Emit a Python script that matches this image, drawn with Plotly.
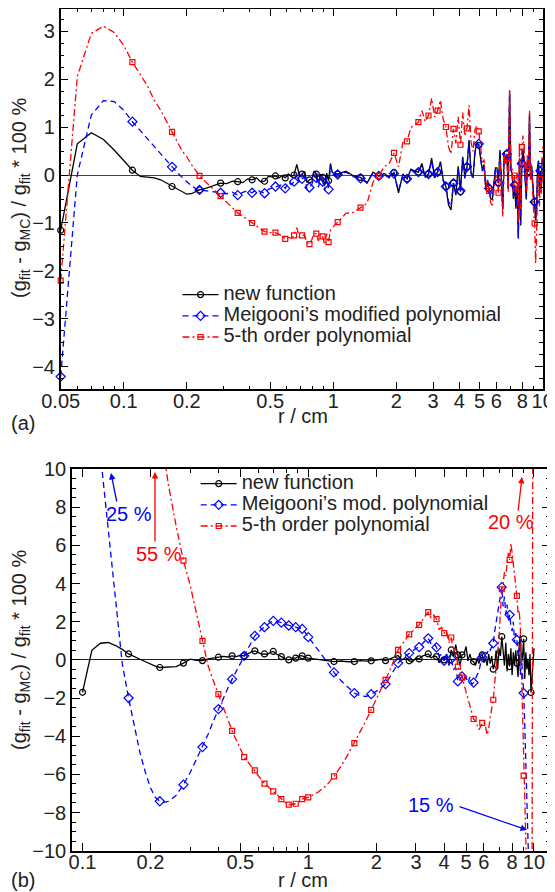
import plotly.graph_objects as go

# ---------------- panel (a) data ----------------
R_TOP = [0.05, 0.06, 0.07, 0.08, 0.09, 0.10, 0.11, 0.12, 0.13, 0.14, 0.15, 0.16, 0.17, 0.18, 0.19, 0.20, 0.21, 0.22, 0.23,
         0.25, 0.27, 0.29, 0.31, 0.33, 0.35, 0.37, 0.39, 0.41, 0.43, 0.45, 0.47, 0.49, 0.51, 0.53, 0.55, 0.57, 0.59, 0.61,
         0.63, 0.65, 0.67, 0.69, 0.71, 0.73, 0.75, 0.77, 0.79, 0.81, 0.83, 0.85, 0.87, 0.89, 0.91, 0.93, 0.95, 0.97, 0.99,
         1.05, 1.15, 1.25, 1.35, 1.45, 1.55, 1.65, 1.75, 1.85, 1.95,
         2.05, 2.15, 2.25, 2.35, 2.45, 2.55, 2.65, 2.75, 2.85, 2.95,
         3.05, 3.15, 3.25, 3.35, 3.45, 3.55, 3.65, 3.75, 3.85, 3.95,
         4.05, 4.15, 4.25, 4.35, 4.45, 4.55, 4.65, 4.75, 4.85, 4.95,
         5.05, 5.15, 5.25, 5.35, 5.45, 5.55, 5.65, 5.75, 5.85, 5.95,
         6.05, 6.15, 6.25, 6.35, 6.45, 6.55, 6.65, 6.75, 6.85, 6.95,
         7.05, 7.15, 7.25, 7.35, 7.45, 7.55, 7.65, 7.75, 7.85, 7.95,
         8.05, 8.15, 8.25, 8.35, 8.45, 8.55, 8.65, 8.75, 8.85, 8.95,
         9.05, 9.15, 9.25, 9.35, 9.45, 9.55, 9.65, 9.75, 9.85, 9.95, 10.0]

NEW_TOP = [-1.15, 0.65, 0.88, 0.74, 0.52, 0.30, 0.10, -0.03, -0.05, -0.06, -0.10, -0.17, -0.24, -0.30, -0.36, -0.40, -0.39, -0.35, -0.31,
           -0.27, -0.22, -0.17, -0.18, -0.13, -0.14, -0.16, -0.08, -0.10, -0.06, -0.14, -0.13, -0.03, -0.04, -0.02, -0.06, -0.01, -0.06, 0.02,
           -0.03, 0.0, 0.22, -0.02, 0.02, 0.07, -0.16, -0.10, -0.08, 0.08, 0.02, -0.17, 0.02, -0.05, -0.22, 0.04, -0.12, 0.24, 0.05,
           0.02, 0.08, -0.02, -0.05, -0.17, 0.06, -0.02, 0.03, -0.04, 0.05,
           -0.37, 0.02, -0.08, 0.12, 0.08, 0.06, 0.24, -0.05, 0.02, 0.35,
           -0.06, 0.06, 0.28, -0.10, -0.24, -0.62, -0.73, -0.17, -0.42, 0.18,
           -0.35, 0.38, -0.05, 0.17, 0.73, 0.05, -0.06, 0.49, 0.66, 0.62,
           0.38, 0.10, 0.22, -0.31, -0.10, -0.28, -0.50, -0.51, -0.10, 0.15,
           0.15, -0.16, 0.52, 0.0, -0.72, 0.48, 0.30, 0.44, -0.30, 1.76,
           0.10, 0.03, -0.50, -0.21, -0.70, -0.24, -1.30, 0.35, -1.05, 0.24,
           0.52, 0.30, -0.21, -0.51, 0.30, 0.07, 1.28, -0.10, 0.20, -0.30,
           -0.45, -0.56, -0.94, -0.75, 0.17, 0.30, -0.45, 0.09, -0.30, 0.35, 0.30]

MEI_TOP = [-4.2, 0.0, 1.25, 1.55, 1.53, 1.35, 1.11, 0.92, 0.76, 0.58, 0.44, 0.30, 0.17, 0.05, -0.05, -0.14, -0.22, -0.28, -0.31,
           -0.33, -0.35, -0.37, -0.39, -0.36, -0.42, -0.36, -0.33, -0.37, -0.30, -0.35, -0.38, -0.30, -0.27, -0.24, -0.22, -0.20, -0.28, -0.15,
           -0.20, -0.14, 0.05, -0.15, -0.08, -0.05, -0.30, -0.26, -0.20, -0.05, -0.06, -0.25, -0.08, -0.14, -0.32, -0.05, -0.30, 0.18, 0.02,
           0.01, 0.06, -0.04, -0.07, -0.15, 0.04, -0.02, 0.01, -0.06, 0.03,
           -0.33, 0.0, -0.08, 0.10, 0.06, 0.06, 0.20, -0.06, 0.02, 0.30,
           -0.08, 0.06, 0.25, -0.12, -0.24, -0.55, -0.66, -0.17, -0.38, 0.15,
           -0.33, 0.35, -0.07, 0.17, 0.68, 0.03, -0.08, 0.46, 0.62, 0.65,
           0.35, 0.08, 0.20, -0.29, -0.12, -0.28, -0.46, -0.48, -0.12, 0.12,
           0.13, -0.16, 0.48, -0.02, -0.68, 0.45, 0.28, 0.44, -0.28, 1.70,
           0.08, 0.02, -0.47, -0.21, -0.66, -0.24, -1.33, 0.32, -1.00, 0.24,
           0.50, 0.28, -0.20, -0.48, 0.28, 0.07, 1.22, -0.12, 0.18, -0.28,
           -0.42, -0.56, -0.90, -0.70, 0.15, 0.28, -0.42, 0.09, -0.28, 0.32, 0.28]

POLY_TOP = [-2.2, 2.05, 2.95, 3.10, 2.97, 2.70, 2.35, 2.10, 1.85, 1.55, 1.35, 1.12, 0.90, 0.68, 0.50, 0.38, 0.22, 0.10, -0.02,
            -0.17, -0.31, -0.44, -0.56, -0.67, -0.79, -0.86, -0.93, -1.00, -1.06, -1.12, -1.18, -1.19, -1.21, -1.20, -1.24, -1.27, -1.33, -1.30,
            -1.32, -1.26, -1.10, -1.30, -1.26, -1.25, -1.42, -1.44, -1.35, -1.22, -1.22, -1.37, -1.22, -1.28, -1.45, -1.22, -1.40, -1.15, -1.10,
            -0.98, -0.80, -0.78, -0.68, -0.59, -0.14, -0.02, 0.17, 0.24, 0.46,
            0.17, 0.68, 0.70, 0.99, 1.04, 1.10, 1.34, 1.11, 1.24, 1.60,
            1.21, 1.34, 1.56, 1.16, 1.00, 0.59, 0.44, 0.96, 0.66, 1.21,
            0.63, 1.30, 0.81, 0.97, 1.45, 0.68, 0.49, 0.95, 1.03, 0.91,
            0.60, 0.26, 0.32, -0.26, -0.10, -0.33, -0.59, -0.63, -0.25, -0.03,
            -0.05, -0.37, 0.32, -0.18, -0.87, 0.36, 0.20, 0.35, -0.35, 1.76,
            0.15, 0.13, -0.35, -0.01, -0.46, 0.03, -1.00, 0.67, -0.71, 0.58,
            0.82, 0.55, -0.01, -0.35, 0.44, 0.19, 1.34, -0.10, 0.15, -0.45,
            -0.75, -1.01, -1.84, -1.25, -0.13, 0.05, -0.65, -0.08, -0.40, 0.45, 0.60]

MARK_TOP = [0.05, 0.11, 0.17, 0.23, 0.29, 0.35, 0.41, 0.47, 0.53, 0.59, 0.65, 0.71, 0.77, 0.83, 0.89, 0.95,
            1.05, 1.35, 1.65, 1.95, 2.25, 2.55, 2.85, 3.15, 3.45, 3.75, 4.05, 4.35,
            4.95, 5.55, 6.15, 6.75, 7.35, 7.95, 8.55, 9.15, 9.75]

# ---------------- panel (b) data ----------------
R_BOT = [0.10, 0.11, 0.12, 0.13, 0.14, 0.15, 0.16, 0.17, 0.18, 0.19, 0.20, 0.21, 0.22, 0.23, 0.24,
         0.26, 0.28, 0.30, 0.32, 0.34, 0.36, 0.38, 0.40, 0.42, 0.44, 0.46, 0.48, 0.50, 0.52, 0.54, 0.56, 0.58, 0.60, 0.62,
         0.64, 0.66, 0.68, 0.70, 0.72, 0.74, 0.76, 0.78, 0.80, 0.82, 0.84, 0.86, 0.88, 0.90, 0.92, 0.94, 0.96, 0.98, 1.00,
         1.1, 1.2, 1.3, 1.4, 1.5, 1.6, 1.7, 1.8, 1.9, 2.0,
         2.1, 2.2, 2.3, 2.4, 2.5, 2.6, 2.7, 2.8, 2.9, 3.0,
         3.1, 3.2, 3.3, 3.4, 3.5, 3.6, 3.7, 3.8, 3.9, 4.0,
         4.1, 4.2, 4.3, 4.4, 4.5, 4.6, 4.7, 4.8, 4.9, 5.0,
         5.1, 5.2, 5.3, 5.4, 5.5, 5.6, 5.7, 5.8, 5.9, 6.0,
         6.1, 6.2, 6.3, 6.4, 6.5, 6.6, 6.7, 6.8, 6.9, 7.0,
         7.1, 7.2, 7.3, 7.4, 7.5, 7.6, 7.7, 7.8, 7.9, 8.0,
         8.1, 8.2, 8.3, 8.4, 8.5, 8.6, 8.7, 8.8, 8.9, 9.0,
         9.1, 9.2, 9.3, 9.4, 9.5, 9.6, 9.7, 9.8, 9.9, 10.0]

NEW_BOT = [-1.7, 0.5, 0.87, 0.91, 0.75, 0.55, 0.31, 0.15, 0.03, -0.10, -0.22, -0.33, -0.40, -0.38, -0.36,
           -0.35, -0.17, 0.04, -0.02, -0.04, 0.05, 0.10, 0.14, 0.18, 0.15, 0.21, 0.17, 0.24, 0.21, 0.32, 0.42, 0.47, 0.38, 0.30,
           0.31, 0.28, 0.40, 0.44, 0.32, 0.22, 0.17, 0.10, 0.02, 0.0, 0.06, 0.09, 0.09, 0.18, 0.22, 0.21, 0.15, 0.12, 0.09,
           0.02, -0.05, -0.09, -0.06, -0.10, -0.09, -0.04, -0.07, -0.05, -0.02,
           0.03, -0.04, 0.05, 0.15, 0.23, 0.0, 0.12, -0.05, -0.10, 0.10,
           0.05, 0.20, 0.25, 0.31, 0.10, 0.20, 0.17, -0.15, 0.10, 0.0,
           0.30, -0.20, 0.52, 0.20, 0.80, 0.26, -0.30, 0.26, 0.30, 0.70,
           -0.05, 0.30, -0.05, -0.09, -0.30, 0.10, -0.20, 0.20, 0.26, -0.15,
           0.10, -0.30, 0.30, -0.20, 0.20, -0.49, -0.20, 0.50, -0.50, 0.60,
           0.20, 1.22, 0.40, -0.30, 0.90, -0.60, 0.30, -0.35, 0.60, -0.80,
           0.40, -0.30, 0.50, -0.17, -0.90, 0.80, 1.31, -0.17, 0.20, 1.10,
           -1.00, 0.40, -0.50, 0.05, -0.80, 0.30, -1.71, -0.95, -0.20, 0.61]

MEI_BOT = [25.0, 17.5, 10.8, 6.85, 3.2, -0.2, -2.0, -3.5, -4.9, -5.9, -6.7, -7.2, -7.41, -7.47, -7.42,
           -7.1, -6.54, -5.9, -5.2, -4.57, -3.9, -3.2, -2.58, -2.05, -1.5, -1.01, -0.55, -0.2, 0.21, 0.55, 0.95, 1.26, 1.42, 1.6,
           1.71, 1.85, 1.97, 2.04, 2.02, 1.98, 1.95, 1.88, 1.84, 1.80, 1.76, 1.73, 1.71, 1.69, 1.64, 1.62, 1.5, 1.35, 1.19,
           0.55, -0.05, -0.66, -1.1, -1.45, -1.74, -1.88, -1.92, -1.8, -1.65,
           -1.45, -1.27, -0.9, -0.5, -0.17, 0.05, 0.2, 0.35, 0.5, 0.6,
           0.67, 0.85, 1.0, 1.13, 0.85, 0.9, 0.65, 0.2, 0.3, -0.05,
           0.3, -0.3, 0.05, -0.5, -0.4, -1.13, -1.0, -0.87, -1.1, -0.9,
           -1.2, -0.9, -1.3, -1.19, -1.0, -0.8, -0.6, -0.2, 0.14, 0.1,
           0.4, 0.3, 0.6, 0.5, 0.7, 0.87, 1.5, 2.0, 2.4, 3.0,
           3.5, 3.81, 2.8, 3.31, 2.4, 2.9, 2.0, 2.36, 1.8, 1.5,
           2.0, 0.9, 1.4, 1.05, 0.2, 0.6, -0.79, 0.3, -0.8, -1.74,
           -3.4, -5.1, -6.8, -8.4, -10.1, -12.0, -15.0, -14.0, -12.0, -11.0]

POLY_BOT = [55.0, 45.0, 37.0, 31.0, 26.0, 22.0, 19.0, 17.0, 15.3, 14.0, 13.0, 12.2, 11.3, 10.7, 9.2,
            7.0, 5.2, 3.9, 2.4, 0.99, -0.3, -1.1, -1.8, -2.5, -3.1, -3.72, -4.2, -4.65, -5.1, -5.35, -5.6, -5.79, -6.05, -6.3,
            -6.49, -6.62, -6.76, -6.89, -7.02, -7.16, -7.3, -7.42, -7.52, -7.59, -7.58, -7.56, -7.54, -7.47, -7.38, -7.3, -7.26, -7.23, -7.21,
            -6.95, -6.6, -6.11, -5.55, -4.95, -4.36, -3.75, -3.2, -2.62, -2.1,
            -1.6, -1.05, -0.55, 0.0, 0.52, 0.8, 1.1, 1.34, 1.5, 1.7,
            1.83, 2.1, 2.3, 2.5, 2.2, 2.35, 2.13, 1.6, 1.7, 1.4,
            1.5, 0.9, 1.17, 0.4, 0.6, -0.35, -0.6, -0.93, -1.3, -1.7,
            -2.1, -2.5, -2.8, -3.1, -3.2, -3.4, -3.66, -3.5, -3.3, -3.27,
            -3.5, -3.93, -3.6, -3.0, -2.6, -2.09, -1.2, -0.5, 0.3, 1.2,
            2.5, 3.7, 4.0, 4.6, 4.4, 5.2, 5.6, 5.24, 6.1, 5.6,
            5.0, 4.4, 3.9, 3.35, 2.4, 2.6, 1.66, -0.8, -2.8, -6.07,
            -8.0, -9.6, -11.5, -13.0, -14.0, -15.0, -15.5, -14.0, 20.0, 18.0]

MARK_BOT = [0.10, 0.16, 0.22, 0.28, 0.34, 0.40, 0.46, 0.52, 0.58, 0.64, 0.70, 0.76, 0.82, 0.88, 0.94, 1.00,
            1.3, 1.6, 1.9, 2.2, 2.5, 2.8, 3.1, 3.4, 3.7, 4.0, 4.3, 4.6,
            4.8, 5.4, 5.9, 6.6, 7.2, 7.8, 8.4, 9.0, 9.7]

X_TICKS_TOP = [0.05, 0.1, 0.2, 0.5, 1, 2, 3, 4, 5, 6, 8, 10]
X_TICKS_BOT = [0.1, 0.2, 0.5, 1, 2, 3, 4, 5, 6, 8, 10]
X_MINOR_TOP = [0.06, 0.07, 0.08, 0.09, 0.3, 0.4, 0.6, 0.7, 0.8, 0.9, 7, 9]
X_MINOR_BOT = [0.09, 0.3, 0.4, 0.6, 0.7, 0.8, 0.9, 7, 9]

LABELS_TOP = ["new function", "Meigooni’s modified polynomial", "5-th order polynomial"]
LABELS_BOT = ["new function", "Meigooni’s mod. polynomial", "5-th order polynomial"]

FONT = "Liberation Sans, Arial, Helvetica, sans-serif"
FS = 20
# the page body has an 8 px margin: the figure is drawn from (8, 8)
OFF = 8
W, H = 555 - OFF, 892 - OFF

STYLES = [
    dict(color="#000000", dash="solid", symbol="circle-open", size=6),
    dict(color="#0000ff", dash="6px,4px", symbol="diamond-open", size=7),
    dict(color="#ff0000", dash="7px,3px,2px,3px", symbol="square-open", size=5),
]

fig = go.Figure()


def add_panel(R, series, labels, marks, xa, ya, legend, clip):
    for st, lab in zip(STYLES, labels):
        fig.add_trace(go.Scatter(
            x=[None], y=[None], mode="lines+markers",
            name="<span style='font-size:%dpx'>%s</span>" % (FS, lab), legend=legend,
            line=dict(color=st["color"], dash=st["dash"], width=1.3),
            marker=dict(symbol=st["symbol"], size=st["size"], color=st["color"],
                        line=dict(width=1.2, color=st["color"])),
            xaxis=xa, yaxis=ya, showlegend=True))
    for st, Y in zip(STYLES, series):
        fig.add_trace(go.Scatter(
            x=R, y=Y, mode="lines", showlegend=False, xaxis=xa, yaxis=ya,
            line=dict(color=st["color"], dash=st["dash"], width=1.3)))
        idx = [i for i, r in enumerate(R) if any(abs(r - m) < 1e-9 for m in marks)]
        fig.add_trace(go.Scatter(
            x=[R[i] for i in idx], y=[Y[i] for i in idx], mode="markers",
            showlegend=False, xaxis=xa, yaxis=ya, cliponaxis=clip,
            marker=dict(symbol=st["symbol"], size=st["size"], color=st["color"],
                        line=dict(width=1.2, color=st["color"]))))


add_panel(R_TOP, [NEW_TOP, MEI_TOP, POLY_TOP], LABELS_TOP, MARK_TOP, "x", "y", "legend", False)
add_panel(R_BOT, [NEW_BOT, MEI_BOT, POLY_BOT], LABELS_BOT, MARK_BOT, "x2", "y2", "legend2", True)

axis_common = dict(showline=True, linecolor="black", linewidth=1.5, mirror="allticks",
                   ticks="inside", ticklen=8, tickwidth=1.2, tickcolor="black",
                   showgrid=False, tickfont=dict(size=FS, color="#222", family=FONT),
                   automargin=False)


def minor_log(vals):
    return dict(tickmode="array", tickvals=vals, ticks="inside", ticklen=4,
                tickwidth=1, tickcolor="black", showgrid=False)


def minor_lin(dt):
    return dict(dtick=dt, ticks="inside", ticklen=4, tickwidth=1,
                tickcolor="black", showgrid=False)


def px2x(px):
    return min(1.0, max(0.0, (px - OFF) / W))


def py2y(py):
    return min(1.0, max(0.0, 1 - (py - OFF) / H))


fig.update_layout(
    width=W, height=H, template="none",
    margin=dict(l=0, r=0, t=0, b=0),
    paper_bgcolor="white", plot_bgcolor="white",
    font=dict(family=FONT, size=FS, color="#222"),
    xaxis=dict(axis_common, type="log", range=[-1.30103, 1.0],
               domain=[px2x(60.7), px2x(542.7)], anchor="y",
               tickmode="array", tickvals=X_TICKS_TOP, ticklabelstandoff=-7,
               ticktext=[str(v) for v in X_TICKS_TOP], zeroline=False,
               minor=minor_log(X_MINOR_TOP)),
    yaxis=dict(axis_common, range=[-4.465, 3.469],
               domain=[py2y(389.3), py2y(8.5)], anchor="x",
               tick0=0, dtick=1, zeroline=True, zerolinecolor="#444",
               zerolinewidth=1.2, minor=minor_lin(0.25)),
    xaxis2=dict(axis_common, type="log", range=[-1.0465, 1.0709],
                domain=[px2x(72), px2x(550)], anchor="y2",
                tickmode="array", tickvals=X_TICKS_BOT, ticklabelstandoff=-7,
                ticktext=[str(v) for v in X_TICKS_BOT], zeroline=False,
                minor=minor_log(X_MINOR_BOT)),
    yaxis2=dict(axis_common, range=[-10, 10],
                domain=[py2y(850.7), py2y(469)], anchor="x2",
                tick0=0, dtick=2, zeroline=True, zerolinecolor="#222",
                zerolinewidth=1.2, minor=minor_lin(0.5)),
    legend=dict(x=px2x(177.5), y=py2y(316), xanchor="left", yanchor="middle",
                bgcolor="rgba(0,0,0,0)", borderwidth=0, itemwidth=36,
                font=dict(size=14, family=FONT, color="#222"), traceorder="normal"),
    legend2=dict(x=px2x(195.7), y=py2y(505), xanchor="left", yanchor="middle",
                 bgcolor="rgba(0,0,0,0)", borderwidth=0, itemwidth=36,
                 font=dict(size=14, family=FONT, color="#222"), traceorder="normal"),
    showlegend=True,
)

ann = []
ytitle = "(g<sub>fit</sub> - g<sub>MC</sub>) / g<sub>fit</sub> * 100 %"
for yc in (198, 650):
    ann.append(dict(text=ytitle, x=px2x(20), y=py2y(yc), xref="paper", yref="paper",
                    textangle=-90, showarrow=False, font=dict(size=FS, color="#222"),
                    xanchor="center", yanchor="middle"))
for yc in (416, 880):
    ann.append(dict(text="r / cm", x=px2x(303), y=py2y(yc), xref="paper", yref="paper",
                    showarrow=False, font=dict(size=FS, color="#222"),
                    xanchor="center", yanchor="middle"))
for lab, yc in (("(a)", 423), ("(b)", 880)):
    ann.append(dict(text=lab, x=px2x(23), y=py2y(yc), xref="paper", yref="paper",
                    showarrow=False, font=dict(size=FS, color="#222"),
                    xanchor="center", yanchor="middle"))

for txt, cx, cy, col in (("25 %", 129, 514, "#0000ff"), ("55 %", 159, 554, "#ff0000"),
                         ("20 %", 511, 522, "#ff0000"), ("15 %", 431, 805, "#0000ff")):
    ann.append(dict(text=txt, x=px2x(cx), y=py2y(cy), xref="paper", yref="paper",
                    showarrow=False, font=dict(size=FS, color=col),
                    xanchor="center", yanchor="middle"))
for (tx, ty, hx, hy, col) in ((117, 503, 111, 473, "#0000ff"), (155, 543, 155, 472, "#ff0000"),
                              (518, 512, 522, 477, "#ff0000"), (458, 806, 527, 830, "#0000ff")):
    ann.append(dict(text="", x=px2x(hx), y=py2y(hy), xref="paper", yref="paper",
                    ax=tx - hx, ay=ty - hy, axref="pixel", ayref="pixel",
                    showarrow=True, arrowhead=2, arrowsize=1, arrowwidth=1.3,
                    arrowcolor=col, standoff=0, startstandoff=0))

fig.update_layout(annotations=ann)
fig.write_html("out.html")
